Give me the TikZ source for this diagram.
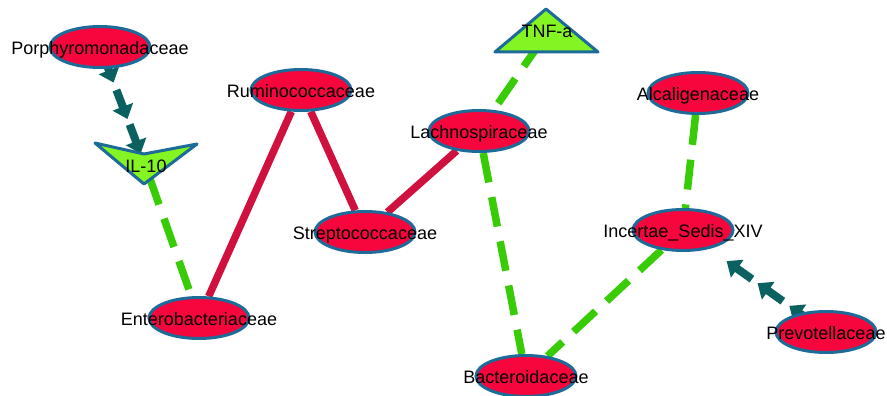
\documentclass[tikz,border=0pt]{standalone}
\usepackage{fontspec}
\setmainfont{Liberation Sans}
\usetikzlibrary{shapes.geometric,decorations.markings}
\usepackage{xcolor}
\definecolor{cnode}{HTML}{F7063D}
\definecolor{cborder}{HTML}{1C6B98}
\definecolor{cred}{HTML}{D0103D}
\definecolor{cgreen}{HTML}{38CC06}
\definecolor{cteal}{HTML}{0B6060}
\definecolor{clime}{HTML}{84F522}

\pgfdeclarelayer{edgelayer}
\pgfdeclarelayer{shapelayer}
\pgfsetlayers{edgelayer,shapelayer,main}

\newcommand{\actarrow}{\fill[cteal] (0pt,0pt) -- (-13pt,11pt) -- (-13pt,4pt)
  -- (-31pt,4pt) -- (-31pt,-4pt) -- (-13pt,-4pt) -- (-13pt,-11pt) -- cycle;}

\begin{document}
\begin{tikzpicture}[x=1pt, y=-1pt,
  font=\fontsize{18}{20}\selectfont,
  taxon/.style={ellipse, draw=cborder, fill=cnode, line width=3pt,
                minimum width=100pt, minimum height=41pt, inner sep=0pt},
  every label/.style={text height=13pt, text depth=4pt, inner sep=0pt, yshift=-3pt},
  cytext/.style={text height=13pt, text depth=4pt, inner sep=0pt},
  cytri/.style={fill=clime, draw=cborder, line width=3pt, line join=round},
  posedge/.style={draw=cred, line width=7.5pt},
  negedge/.style={draw=cgreen, line width=7.5pt, dash pattern=on 30pt off 15pt},
  actedge/.style n args={3}{decoration={markings,
      mark=at position #1 with {\actarrow},
      mark=at position #2 with {\actarrow},
      mark=at position #3 with {\actarrow}}, postaction={decorate}}
]
\useasboundingbox (0,0) rectangle (887,396);

% taxa
\node[taxon, label=center:Porphyromonadaceae] (porph) at (100,47) {};
\node[taxon, label=center:Ruminococcaceae] (rumino) at (301,90) {};
\node[taxon, label=center:Streptococcaceae] (strepto) at (365,232) {};
\node[taxon, label=center:Lachnospiraceae] (lachno) at (479,131) {};
\node[taxon, label=center:Alcaligenaceae] (alcal) at (698,93) {};
\node[taxon, label=center:Incertae\_Sedis\_XIV] (incert) at (683,230) {};
\node[taxon, label=center:Prevotellaceae] (prevo) at (826,332) {};
\node[taxon, label=center:Enterobacteriaceae] (entero) at (199,318) {};
\node[taxon, label=center:Bacteroidaceae] (bactero) at (526,376) {};

% cytokines
\node[cytext] (il10) at (146,167.5) {IL-10};
\node[cytext] (tnf) at (547,33) {TNF-a};

\begin{pgfonlayer}{shapelayer}
\filldraw[cytri, shift={(il10.center)}] (-51,-24.5) -- (-2,-13.5) -- (51,-23.5) -- (-2,16.5) -- cycle;
\filldraw[cytri, shift={(tnf.center)}] (-1,-24) -- (51,19) -- (-52,19) -- cycle;
\end{pgfonlayer}

% edges
\begin{pgfonlayer}{edgelayer}
\draw[posedge] (rumino) -- (entero);
\draw[posedge] (rumino) -- (strepto);
\draw[posedge] (strepto) -- (lachno);
\draw[negedge] (il10) -- (entero);
\draw[negedge] (tnf) -- (lachno);
\draw[negedge] (lachno) -- (bactero);
\draw[negedge] (incert) -- (bactero);
\draw[negedge] (alcal) -- (incert);
\path[actedge={38pt}{77pt}{114pt}] (porph.center) -- (il10.center);
\path[actedge={45pt}{84pt}{122pt}] (prevo.center) -- (incert.center);
\end{pgfonlayer}
\end{tikzpicture}
\end{document}
